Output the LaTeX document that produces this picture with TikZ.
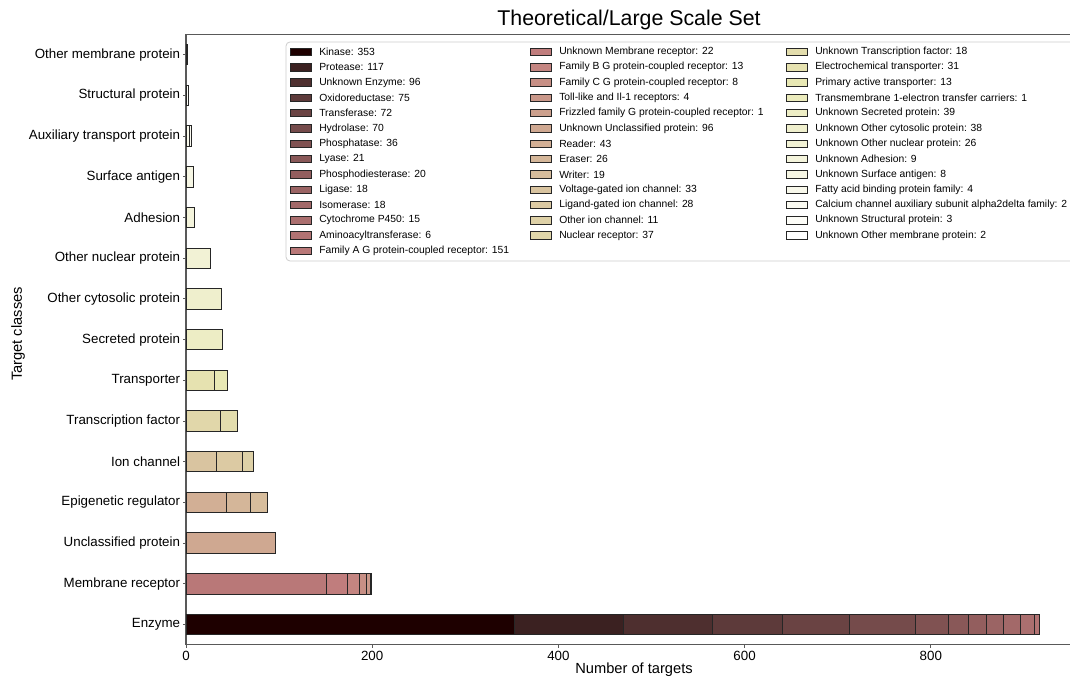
\documentclass[tikz,border=0pt]{standalone}
\usepackage{fontspec}
\setmainfont{Liberation Sans}

% colores de las clases (mapa pink, 40 pasos)
\foreach \i in {0,...,39}{%
  \pgfmathsetmacro\xx{\i/39}%
  \pgfmathsetmacro\hotr{min(1,0.0416+0.9584*\xx/0.365079)}%
  \pgfmathsetmacro\hotg{min(1,max(0,(\xx-0.365079)/0.380953))}%
  \pgfmathsetmacro\hotb{max(0,(\xx-0.746032)/0.253968)}%
  \pgfmathsetmacro\pkr{min(1,sqrt((2*\xx+\hotr)/3))}%
  \pgfmathsetmacro\pkg{min(1,sqrt((2*\xx+\hotg)/3))}%
  \pgfmathsetmacro\pkb{min(1,sqrt((2*\xx+\hotb)/3))}%
  \xglobal\definecolor{pk\i}{rgb}{\pkr,\pkg,\pkb}%
}

% barra apilada: #1 fila, #2 lista valor/color
\newcommand\stackbar[2]{%
  \gdef\barend{0}%
  \foreach \val/\ci in {#2}{%
    \pgfmathsetmacro\barnext{\barend+\val}%
    \draw[segment, fill=pk\ci] (\barend,#1-0.25) rectangle (\barnext,#1+0.25);%
    \xdef\barend{\barnext}%
  }%
}

\begin{document}
\begin{tikzpicture}[x=0.75pt, y=-0.75pt,
    segment/.style={draw=black!85, line width=0.7pt},
    spine/.style={draw=black!65, line width=0.8pt},
    tickmark/.style={draw=black!65, line width=0.7pt},
    ticklab/.style={font=\fontsize{10}{12}\selectfont, inner sep=1.5pt, text=black},
    lgpatch/.style={draw=black!85, line width=0.6pt},
    lgtext/.style={font=\fontsize{7.75}{9}\selectfont, anchor=west, inner sep=0pt}]
    \useasboundingbox (0,0) rectangle (1070,677);
    \clip (0,0) rectangle (1070,677);

    % Ejes
    \draw[spine] (186,34.4) -- (186,644.9) -- (1090,644.9);
    \draw[spine] (186,34.4) -- (1090,34.4);

    % Barras apiladas por clase
    \begin{scope}[shift={(186,624.5)}, x=0.69825pt, y=30.525pt]
        \stackbar{0}{353/0,117/1,96/2,75/3,72/4,70/5,36/6,21/7,20/8,18/9,18/10,15/11,6/12}
        \stackbar{1}{151/13,22/14,13/15,8/16,4/17,1/18}
        \stackbar{2}{96/19}
        \stackbar{3}{43/20,26/21,19/22}
        \stackbar{4}{33/23,28/24,11/25}
        \stackbar{5}{37/26,18/27}
        \stackbar{6}{31/28,13/29,1/30}
        \stackbar{7}{39/31}
        \stackbar{8}{38/32}
        \stackbar{9}{26/33}
        \stackbar{10}{9/34}
        \stackbar{11}{8/35}
        \stackbar{12}{4/36,2/37}
        \stackbar{13}{3/38}
        \stackbar{14}{2/39}

        % Marcas del eje x
        \foreach \t in {0,200,400,600,800}
            \draw[tickmark] (\t,-0.5) -- ++(0,-2.6pt) node[below, ticklab] (xt\t) {\t};

        % Clases en el eje y
        \foreach \name [count=\k from 0] in {Enzyme, Membrane receptor, Unclassified protein,
            Epigenetic regulator, Ion channel, Transcription factor, Transporter,
            Secreted protein, Other cytosolic protein, Other nuclear protein, Adhesion,
            Surface antigen, Auxiliary transport protein, Structural protein, Other membrane protein}
            \draw[tickmark] (0,\k) -- ++(-2.6pt,0) node[left, ticklab] (cl\k) {\name};
    \end{scope}

    % Titulo y etiquetas de los ejes
    \node[font=\fontsize{16}{19}\selectfont] (title) at (629,20) {Theoretical/Large Scale Set};
    \node[font=\fontsize{11}{13}\selectfont] (xlab) at (634,670) {Number of targets};
    \node[font=\fontsize{11}{13}\selectfont, rotate=90] (ylab) at (18,334) {Target classes};

    % Leyenda
    \draw[draw=black!20, fill=white, rounded corners=3pt, line width=0.6pt] (286,42) rectangle (1090,261);
    \foreach \lab [count=\k from 0] in {Kinase: 353, Protease: 117, Unknown Enzyme: 96,
        Oxidoreductase: 75, Transferase: 72, Hydrolase: 70, Phosphatase: 36, Lyase: 21,
        Phosphodiesterase: 20, Ligase: 18, Isomerase: 18, Cytochrome P450: 15,
        Aminoacyltransferase: 6, Family A G protein-coupled receptor: 151}{
        \pgfmathsetmacro\yy{52+15.3*\k}
        \draw[lgpatch, fill=pk\k] (290,\yy-3.7) rectangle (311,\yy+3.7);
        \node[lgtext] (lg\k) at (319,\yy) {\lab};
    }
    \foreach \lab [count=\k from 14] in {Unknown Membrane receptor: 22,
        Family B G protein-coupled receptor: 13, Family C G protein-coupled receptor: 8,
        Toll-like and Il-1 receptors: 4, Frizzled family G protein-coupled receptor: 1,
        Unknown Unclassified protein: 96, Reader: 43, Eraser: 26, Writer: 19,
        Voltage-gated ion channel: 33, Ligand-gated ion channel: 28,
        Other ion channel: 11, Nuclear receptor: 37}{
        \pgfmathsetmacro\yy{52+15.3*(\k-14)}
        \draw[lgpatch, fill=pk\k] (530,\yy-3.7) rectangle (551,\yy+3.7);
        \node[lgtext] (lg\k) at (559,\yy) {\lab};
    }
    \foreach \lab [count=\k from 27] in {Unknown Transcription factor: 18,
        Electrochemical transporter: 31, Primary active transporter: 13,
        Transmembrane 1-electron transfer carriers: 1, Unknown Secreted protein: 39,
        Unknown Other cytosolic protein: 38, Unknown Other nuclear protein: 26,
        Unknown Adhesion: 9, Unknown Surface antigen: 8,
        Fatty acid binding protein family: 4,
        Calcium channel auxiliary subunit alpha2delta family: 2,
        Unknown Structural protein: 3, Unknown Other membrane protein: 2}{
        \pgfmathsetmacro\yy{52+15.3*(\k-27)}
        \draw[lgpatch, fill=pk\k] (786,\yy-3.7) rectangle (807,\yy+3.7);
        \node[lgtext] (lg\k) at (815,\yy) {\lab};
    }
\end{tikzpicture}
\end{document}
